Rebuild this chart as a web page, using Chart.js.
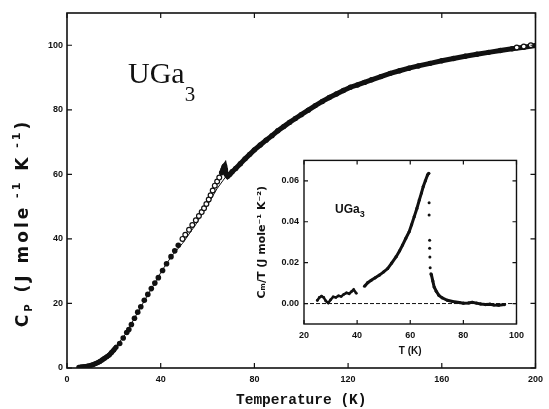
<!DOCTYPE html>
<html>
<head>
<meta charset="utf-8">
<script src="https://cdn.jsdelivr.net/npm/chart.js@4.4.1/dist/chart.umd.min.js"></script>
<style>
  body { margin: 0; background: #fff; }
  #wrap { position: relative; width: 549px; height: 409px; }
  #main { position: absolute; left: 0; top: 0; }
  #inset { position: absolute; left: 240px; top: 150px; }
</style>
</head>
<body>
<div id="wrap">
  <canvas id="main" width="549" height="409"></canvas>
  <canvas id="inset" width="290" height="215"></canvas>
</div>
<script>
// main plot: Cp of UGa3
const mainXTicks = [0, 40, 80, 120, 160, 200];
const mainYTicks = [0, 20, 40, 60, 80, 100];

const lowT  = [5, 6, 7, 8, 9, 10, 11, 12, 13, 14, 15, 16, 17, 18, 19, 20, 21];
const lowCp = [0.2, 0.3, 0.4, 0.5, 0.6, 0.8, 1.0, 1.3, 1.6, 2.0, 2.5, 3.0, 3.5, 4.0, 4.8, 5.6, 6.5];

const dotT  = [22.5, 24, 25.5, 26.4, 27.5, 28.8, 30.2, 31.5, 33, 34.5, 36, 37.5, 39, 40.8, 42.5, 44.4, 46, 47.5];
const dotCp = [7.6, 9.3, 11.0, 11.9, 13.5, 15.4, 17.3, 19.0, 21.0, 22.8, 24.6, 26.3, 28.0, 30.2, 32.3, 34.5, 36.3, 38.0];

const openT  = [49.3, 50.5, 52.1, 53.5, 55, 56.3, 57.5, 58.5, 59.5, 60.5, 61.3, 62.2, 63.1, 64.1, 65, 192, 195, 198];
const openCp = [40.0, 41.3, 42.8, 44.3, 45.8, 47.1, 48.3, 49.5, 50.8, 52.2, 53.5, 55.0, 56.5, 57.8, 59.0, 99.3, 99.6, 100.0];

const highT  = [66, 66.6, 67, 67.3, 67.6, 68, 68.6, 69.5, 70.5, 72, 74, 76, 78, 80, 82.5, 85, 87.5, 90, 92.5, 95,
                97.5, 100, 103, 106, 109, 112, 115, 118, 121, 124, 127, 130, 134, 138, 142, 146, 150, 155, 160, 165,
                170, 175, 180, 185, 190, 195, 200];
const highCp = [60.5, 61.5, 62.3, 62.6, 61.5, 60.0, 59.4, 60.0, 60.8, 61.8, 63.3, 64.8, 66.2, 67.6, 69.1, 70.6, 72.0, 73.5, 74.8, 76.1,
                77.3, 78.5, 79.9, 81.3, 82.6, 83.8, 84.9, 86.0, 87.0, 87.7, 88.5, 89.3, 90.3, 91.3, 92.1, 92.9, 93.6, 94.4, 95.2, 95.9,
                96.6, 97.2, 97.8, 98.4, 98.9, 99.4, 99.9];

// thin reference line
const latT  = [15, 20, 25, 30, 35, 40.8, 45, 49.3, 55, 60, 64, 68, 72];
const latCp = [2.5, 5.8, 10.5, 17.0, 23.3, 30.5, 35.0, 38.6, 44.5, 50.5, 55.5, 59.5, 62.0];

// inset: Cm/T vs T
const insetXTicks = [20, 40, 60, 80, 100];
const insetYTicks = [0, 0.02, 0.04, 0.06];

const inLowT = [25, 25.8, 26.6, 27.4, 28.2, 29.1, 30, 31, 32, 33, 34, 35, 36, 37, 38, 38.7, 39.7];
const inLowV = [0.0015, 0.003, 0.0036, 0.003, 0.0013, 0.0003, 0.0018, 0.0033, 0.003, 0.0038, 0.0035, 0.0045, 0.0052, 0.0048, 0.006, 0.0068, 0.005];

const inMidT = [42.8, 44, 45.3, 46.8, 48.4, 50, 51.5, 53, 54.7, 56, 57.1, 58.3, 59.6, 60.5, 61.5, 62.5, 63.4, 64.2, 64.9, 65.7, 66.5, 67];
const inMidV = [0.0085, 0.0102, 0.0114, 0.0126, 0.0139, 0.0155, 0.0171, 0.0198, 0.0229, 0.0258, 0.0286, 0.0318, 0.0351, 0.0385, 0.0425, 0.0465, 0.0506, 0.054, 0.0572, 0.06, 0.0629, 0.0637];

const inDropT = [67.1, 67.1, 67.3, 67.3, 67.4, 67.5];
const inDropV = [0.0493, 0.0433, 0.031, 0.027, 0.0228, 0.0175];

const inTailT = [67.8, 68, 68.5, 69, 69.8, 70.8, 72, 74, 76, 78.5, 80, 82, 83.3, 85, 86.5, 88.3, 90, 91.5, 93.3, 95.5];
const inTailV = [0.0145, 0.0139, 0.011, 0.0081, 0.006, 0.004, 0.0028, 0.0016, 0.001, 0.0005, 0.0002, 0.0003, 0.0006, 0.0002, -0.0002, -0.0005, -0.0003, -0.0007, -0.0008, -0.0005];

const zeroT = [20, 100];
const zeroV = [0, 0];

const INK = '#111';

function pts(xs, ys) {
  return xs.map((x, i) => ({ x: x, y: ys[i] }));
}

// draws a run of text pieces (sub/superscripts) centred or left aligned at x
function drawRich(ctx, parts, x, y, align) {
  let w = 0;
  parts.forEach(p => { ctx.font = p.font; w += ctx.measureText(p.t).width; });
  let cx = align === 'center' ? x - w / 2 : x;
  ctx.textAlign = 'left';
  ctx.textBaseline = 'alphabetic';
  parts.forEach(p => {
    ctx.font = p.font;
    ctx.fillText(p.t, cx, y + (p.dy || 0));
    cx += ctx.measureText(p.t).width;
  });
}

// box round the plot with inward tick marks on all four sides
const framePlugin = {
  id: 'frame',
  afterDraw(chart, args, opts) {
    const { ctx, chartArea: a, scales } = chart;
    const len = opts.tick;
    ctx.save();
    ctx.strokeStyle = INK;
    ctx.lineWidth = opts.width;
    ctx.strokeRect(a.left, a.top, a.right - a.left, a.bottom - a.top);
    ctx.lineWidth = 1.2;
    ctx.beginPath();
    scales.x.ticks.forEach(t => {
      const x = scales.x.getPixelForValue(t.value);
      ctx.moveTo(x, a.bottom); ctx.lineTo(x, a.bottom - len);
      ctx.moveTo(x, a.top); ctx.lineTo(x, a.top + len);
    });
    scales.y.ticks.forEach(t => {
      const y = scales.y.getPixelForValue(t.value);
      ctx.moveTo(a.left, y); ctx.lineTo(a.left + len, y);
      ctx.moveTo(a.right, y); ctx.lineTo(a.right - len, y);
    });
    ctx.stroke();
    ctx.restore();
  }
};

const labelPlugin = {
  id: 'labels',
  afterDraw(chart, args, opts) {
    const ctx = chart.ctx;
    ctx.save();
    ctx.fillStyle = INK;
    (opts.items || []).forEach(item => {
      ctx.save();
      ctx.translate(item.x, item.y);
      if (item.rotate) ctx.rotate(item.rotate);
      if (item.spacing) ctx.letterSpacing = item.spacing;
      drawRich(ctx, item.parts, 0, 0, item.align || 'left');
      ctx.restore();
    });
    ctx.restore();
  }
};

const tickFont = { family: '"Liberation Sans", Arial, sans-serif', size: 9, weight: 'bold' };

new Chart(document.getElementById('main'), {
  type: 'scatter',
  data: {
    datasets: [
      { data: pts(latT, latCp), showLine: true, borderColor: INK, borderWidth: 1, pointRadius: 0, order: 5 },
      { data: pts(lowT, lowCp), showLine: true, borderColor: INK, borderWidth: 5, pointRadius: 2.5,
        pointBackgroundColor: INK, pointBorderWidth: 0 },
      { data: pts(dotT, dotCp), showLine: false, pointRadius: 2.8, pointBackgroundColor: INK, pointBorderWidth: 0 },
      { data: pts(openT, openCp), showLine: false, pointRadius: 2.4, pointBackgroundColor: '#fff',
        pointBorderColor: INK, pointBorderWidth: 1.2 },
      { data: pts(highT, highCp), showLine: true, borderColor: INK, borderWidth: 5, pointRadius: 2.7,
        pointBackgroundColor: INK, pointBorderWidth: 0 }
    ]
  },
  options: {
    responsive: false,
    animation: false,
    devicePixelRatio: 1,
    layout: { padding: { left: 0, top: 13, right: 10, bottom: 0 } },
    plugins: {
      legend: { display: false },
      tooltip: { enabled: false },
      frame: { width: 1.6, tick: 5 },
      labels: {
        items: [
          { x: 28, y: 223, rotate: -Math.PI / 2, align: 'center', spacing: '3px', parts: [
            { t: 'C', font: 'bold 17px "DejaVu Sans"' },
            { t: 'P', font: 'bold 10px "DejaVu Sans"', dy: 4 },
            { t: ' (J mole', font: 'bold 17px "DejaVu Sans"' },
            { t: ' -1', font: 'bold 11px "DejaVu Sans"', dy: -8 },
            { t: ' K', font: 'bold 17px "DejaVu Sans"' },
            { t: ' -1', font: 'bold 11px "DejaVu Sans"', dy: -8 },
            { t: ')', font: 'bold 17px "DejaVu Sans"' }
          ] },
          { x: 128, y: 83, parts: [
            { t: 'UGa', font: '30px "Liberation Serif"' },
            { t: '3', font: '21px "Liberation Serif"', dy: 18 }
          ] }
        ]
      }
    },
    scales: {
      x: {
        type: 'linear', min: 0, max: 200,
        afterBuildTicks: s => { s.ticks = mainXTicks.map(v => ({ value: v })); },
        afterFit: s => { s.height = 41; },
        grid: { display: false, drawTicks: false },
        border: { display: false },
        ticks: { font: tickFont, color: INK, padding: 6, maxRotation: 0 },
        title: { display: true, text: 'Temperature (K)', color: INK, padding: 0,
                 font: { family: '"Liberation Mono", monospace', size: 14.5, weight: 'bold' } }
      },
      y: {
        type: 'linear', min: 0, max: 110,
        afterBuildTicks: s => { s.ticks = mainYTicks.map(v => ({ value: v })); },
        afterFit: s => { s.width = 67; },
        grid: { display: false, drawTicks: false },
        border: { display: false },
        ticks: { font: tickFont, color: INK, padding: 4 }
      }
    }
  },
  plugins: [framePlugin, labelPlugin]
});

new Chart(document.getElementById('inset'), {
  type: 'scatter',
  data: {
    datasets: [
      { data: pts(zeroT, zeroV), showLine: true, borderColor: INK, borderWidth: 1, borderDash: [4, 2],
        pointRadius: 0 },
      { data: pts(inLowT, inLowV), showLine: true, borderColor: INK, borderWidth: 2.5, pointRadius: 1.4,
        pointBackgroundColor: INK, pointBorderWidth: 0 },
      { data: pts(inMidT, inMidV), showLine: true, borderColor: INK, borderWidth: 3, pointRadius: 1.6,
        pointBackgroundColor: INK, pointBorderWidth: 0 },
      { data: pts(inDropT, inDropV), showLine: false, pointRadius: 1.5, pointBackgroundColor: INK, pointBorderWidth: 0 },
      { data: pts(inTailT, inTailV), showLine: true, borderColor: INK, borderWidth: 3, pointRadius: 1.6,
        pointBackgroundColor: INK, pointBorderWidth: 0 }
    ]
  },
  options: {
    responsive: false,
    animation: false,
    devicePixelRatio: 1,
    layout: { padding: { left: 0, top: 10, right: 12, bottom: 0 } },
    plugins: {
      legend: { display: false },
      tooltip: { enabled: false },
      frame: { width: 1.4, tick: 4 },
      labels: {
        items: [
          { x: 95, y: 63, parts: [
            { t: 'UGa', font: 'bold 12px "Liberation Sans"' },
            { t: '3', font: 'bold 9px "Liberation Sans"', dy: 4 }
          ] }
        ]
      }
    },
    scales: {
      x: {
        type: 'linear', min: 20, max: 100,
        afterBuildTicks: s => { s.ticks = insetXTicks.map(v => ({ value: v })); },
        afterFit: s => { s.height = 41; },
        grid: { display: false, drawTicks: false },
        border: { display: false },
        ticks: { font: tickFont, color: INK, padding: 6, maxRotation: 0 },
        title: { display: true, text: 'T (K)', color: INK, padding: { top: 0, bottom: 8 },
                 font: { family: '"Liberation Sans", sans-serif', size: 10, weight: 'bold' } }
      },
      y: {
        type: 'linear', min: -0.01, max: 0.07,
        afterBuildTicks: s => { s.ticks = insetYTicks.map(v => ({ value: v })); },
        afterFit: s => { s.width = 64; },
        grid: { display: false, drawTicks: false },
        border: { display: false },
        ticks: { font: tickFont, color: INK, padding: 5, callback: v => v.toFixed(2) },
        title: { display: true, text: 'Cₘ/T (J mole⁻¹ K⁻²)', color: INK, padding: { top: 16, bottom: 0 },
                 font: { family: '"DejaVu Sans", sans-serif', size: 11, weight: 'bold' } }
      }
    }
  },
  plugins: [framePlugin, labelPlugin]
});
</script>
</body>
</html>
